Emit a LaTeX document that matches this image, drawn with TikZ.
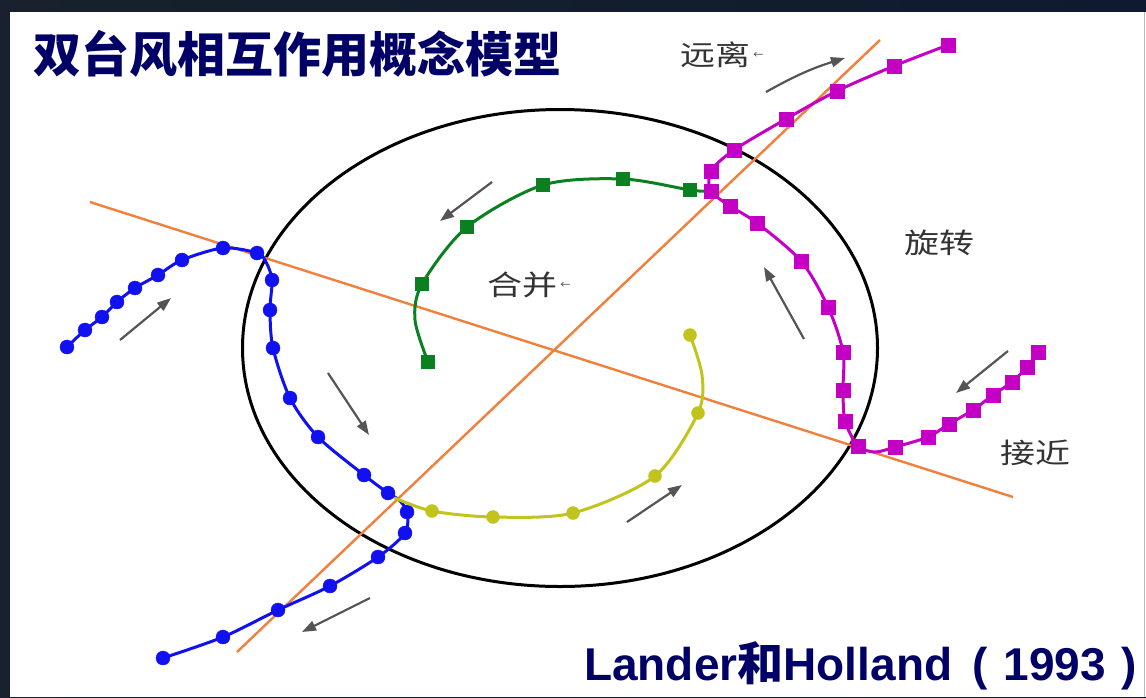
\documentclass[tikz,border=0pt]{standalone}
\usepackage{fontspec}
\usepackage{graphicx}
\setmainfont{Liberation Sans}
\newfontfamily\cjk{Noto Sans CJK SC}
\usetikzlibrary{arrows.meta,positioning,plotmarks}
\definecolor{frameleft}{HTML}{18212D}
\definecolor{framemid}{HTML}{2A4A74}
\definecolor{frameright}{HTML}{0E1A2F}
\definecolor{titlenavy}{HTML}{000066}
\definecolor{labelgray}{HTML}{333333}
\definecolor{arrowgray}{HTML}{555555}
\definecolor{guideorange}{HTML}{F0803C}
\definecolor{trackblue}{HTML}{1010F0}
\definecolor{trackgreen}{HTML}{0B8020}
\definecolor{trackyellow}{HTML}{C2C41E}
\definecolor{trackmagenta}{HTML}{C400C4}

\begin{document}
\begin{tikzpicture}[
  x=1pt,
  y=-1pt,
  track/.style={line width=3pt, line join=round, line cap=round},
  blips/.style={only marks, mark size=#1, mark options={line width=0.4pt}},
  guide/.style={draw=guideorange, line width=2.4pt},
  move/.style={-{Triangle[length=14pt,width=10pt]}, line width=2.2pt, color=arrowgray},
  stage/.style={inner sep=0pt, text=labelgray, font={\cjk\fontsize{28}{28}\selectfont}},
  tinyarrow/.style={inner sep=0pt, text=labelgray, font={\cjk\fontsize{10}{10}\selectfont}},
  heading/.style={inner sep=0pt, anchor=base west, text=titlenavy}
]
\useasboundingbox (0,0) rectangle (1146,697);

% frame and panel
\shade[left color=frameleft, middle color=framemid, right color=frameright] (0,0) rectangle (1146,697);
\fill[white] (10,12) rectangle (1146,697);
\draw[gray!55, line width=1.5pt] (1144.5,12) -- (1144.5,697);

% orbit circle and axes
\draw[line width=3pt] (560,348) ellipse [x radius=317.5pt, y radius=238.5pt];
\draw[guide] (90,202) -- (1013,497);
\draw[guide] (237,652) -- (880,40);

% blue track
\draw[track, trackblue] plot[smooth, tension=.5] coordinates {
  (67,347) (85,330) (102,317) (117,302) (135,288) (158,275) (182,260) (223,248)
  (257,253) (266,262) (272,280) (270,310) (273,348) (290,398) (318,437) (364,475)
  (388,493) (399,500) (407,512) (405,533) (378,557) (330,586) (278,610) (223,637) (163,658)};
\draw[trackblue] plot[blips=7pt, mark=*] coordinates {
  (67,347) (85,330) (102,317) (117,302) (135,288) (158,275) (182,260) (223,248)
  (257,253) (272,280) (270,310) (273,348) (290,398) (318,437) (364,475)
  (388,493) (407,512) (405,533) (378,557) (330,586) (278,610) (223,637) (163,658)};

% yellow track
\draw[track, trackyellow] plot[smooth, tension=.5] coordinates {
  (395,498) (432,511) (493,517) (573,513) (655,476) (698,413) (702,375) (690,335)};
\draw[trackyellow] plot[blips=6.5pt, mark=*] coordinates {
  (432,511) (493,517) (573,513) (655,476) (698,413) (690,335)};

% green track
\draw[track, trackgreen] plot[smooth, tension=.5] coordinates {
  (705,191) (690,190) (623,179) (543,185) (467,227) (422,284) (415,320) (428,362)};
\draw[trackgreen] plot[blips=6.5pt, mark=square*] coordinates {
  (690,190) (623,179) (543,185) (467,227) (422,284) (428,362)};

% magenta track
\draw[track, trackmagenta] plot[smooth, tension=.5] coordinates {
  (1038,352) (1027,367) (1012,382) (993,395) (973,410) (949,424) (928,437) (895,447)
  (875,452) (858,446) (845,421) (843,390) (843,352) (828,307) (801,261) (757,223)
  (730,206) (711,191) (711,171) (734,150) (786,119) (837,91) (894,66) (948,45)};
\draw[trackmagenta] plot[blips=7pt, mark=square*] coordinates {
  (1038,352) (1027,367) (1012,382) (993,395) (973,410) (949,424) (928,437) (895,447)
  (858,446) (845,421) (843,390) (843,352) (828,307) (801,261) (757,223)
  (730,206) (711,191) (711,171) (734,150) (786,119) (837,91) (894,66) (948,45)};

% motion arrows
\draw[move] (766,92) to[bend left=6] (845,58);
\draw[move] (492,182) -- (440,221);
\draw[move] (120,340) -- (171,298);
\draw[move] (328,373) -- (369,435);
\draw[move] (370,598) -- (302,632);
\draw[move] (627,522) -- (682,485);
\draw[move] (804,339) -- (764,267);
\draw[move] (1008,351) -- (956,393);

% stage labels
\node[stage] (yuanli) at (715,55) {\scalebox{1.25}[1]{远离}};
\node[tinyarrow, right=3pt of yuanli] (yuanliarrow) {←};
\node[stage] (hebing) at (522,285) {\scalebox{1.25}[1]{合并}};
\node[tinyarrow, right=3pt of hebing] (hebingarrow) {←};
\node[stage] (xuanzhuan) at (939,243) {\scalebox{1.25}[1]{旋转}};
\node[stage] (jiejin) at (1035,453) {\scalebox{1.25}[1]{接近}};

% title and source
\node[heading, font={\cjk\bfseries\fontsize{48}{48}\selectfont}] (title) at (33,72) {双台风相互作用概念模型};
\node[heading, font={\bfseries\fontsize{46}{46}\selectfont}] (source) at (584,680)
  {Lander{\cjk 和}Holland\hspace{20pt}(\hspace{16pt}1993\hspace{16pt})};
\end{tikzpicture}
\end{document}
